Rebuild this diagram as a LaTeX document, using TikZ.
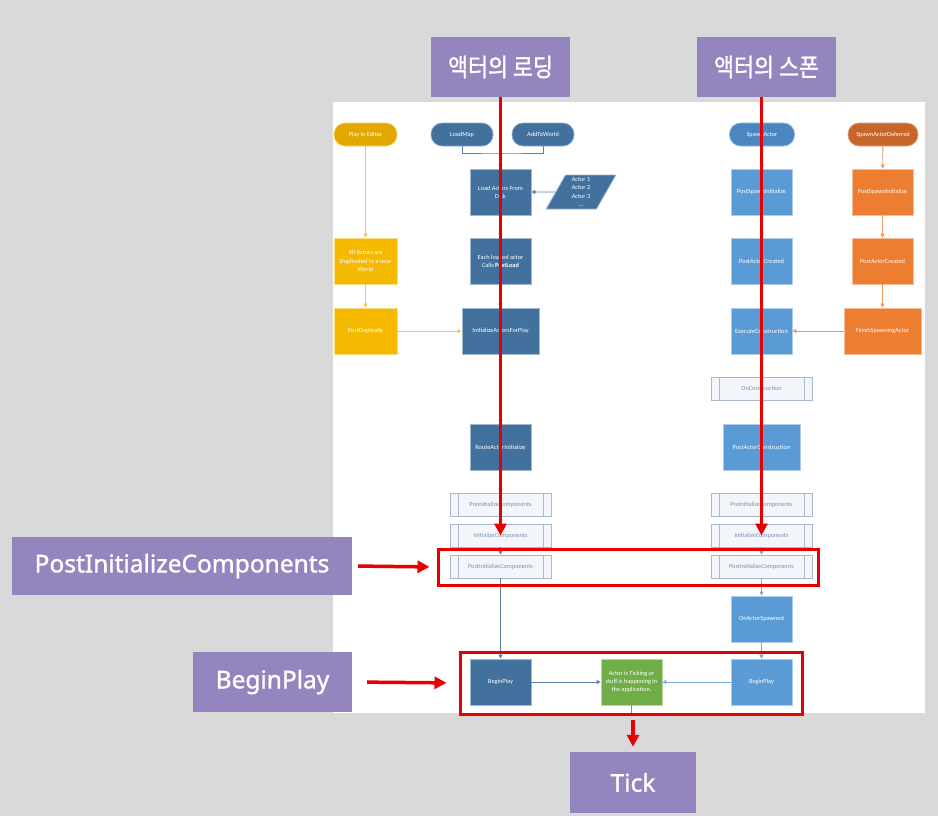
\documentclass[tikz,border=0pt]{standalone}
\usepackage{fontspec}
\setmainfont{Carlito}
\newfontfamily\lblfont[FakeBold=1.2]{Noto Sans}
\newfontfamily\krfont[FakeStretch=0.87,FakeBold=1.2]{Noto Sans CJK KR}
\usetikzlibrary{arrows.meta,shapes.geometric}
\definecolor{bg}{HTML}{D9D9D9}
\definecolor{purp}{HTML}{9585BE}
\definecolor{redc}{HTML}{E60000}
\definecolor{dblue}{HTML}{41719C}
\definecolor{mblue}{HTML}{4A86C1}
\definecolor{lblue}{HTML}{5B9BD5}
\definecolor{dorng}{HTML}{C8652B}
\definecolor{orng}{HTML}{ED7D31}
\definecolor{goldd}{HTML}{E3A800}
\definecolor{gold}{HTML}{F5BA00}
\definecolor{grn}{HTML}{70AD47}
\definecolor{procfill}{HTML}{F2F5FA}
\definecolor{procdraw}{HTML}{A9B8CB}
\definecolor{proctext}{HTML}{7C93B0}
\definecolor{dline}{HTML}{5E81A8}
\definecolor{gline}{HTML}{F5C94A}
\definecolor{oline}{HTML}{EE9A5C}
\definecolor{bline}{HTML}{79A9D9}
\tikzset{
  small/.style={font=\fontsize{6.3}{8.2}\selectfont, align=center, inner sep=1pt},
  fbox/.style={small, rectangle, text=white, minimum width=61pt, minimum height=46pt, line width=0.7pt},
  pill/.style={small, rectangle, rounded corners=11pt, text=white, minimum height=23pt, line width=0.7pt},
  proc/.style={small, rectangle, fill=procfill, draw=procdraw, text=proctext, minimum width=101pt, minimum height=23pt, line width=0.6pt,
    path picture={\draw[procdraw, line width=0.6pt]
      ([xshift=8pt]path picture bounding box.north west) -- ([xshift=8pt]path picture bounding box.south west)
      ([xshift=-8pt]path picture bounding box.north east) -- ([xshift=-8pt]path picture bounding box.south east);}},
  flow/.style={line width=0.8pt, -{Triangle[length=4pt,width=4pt]}},
  purplbl/.style={fill=purp, text=white, inner sep=0pt, font=\lblfont\fontsize{24.5}{29}\selectfont},
  redarrow/.style={draw=redc, line width=3.5pt, -{Triangle[length=12pt,width=12pt]}},
  redrect/.style={draw=redc, line width=3pt, rectangle, inner sep=0pt},
}
\begin{document}
\begin{tikzpicture}[x=1pt,y=-1pt]
\useasboundingbox (0,0) rectangle (938,816);
\fill[bg] (0,0) rectangle (938,816);
\fill[white] (333,102) rectangle (925,713);

% ---- loading column
\node[pill, fill=goldd, draw=gold!60!white, minimum width=63pt] (pie) at (365.5,134.5) {Play in Editor};
\node[pill, fill=dblue, draw=dblue!60!white, minimum width=62pt] (loadmap) at (462,134.5) {LoadMap};
\node[pill, fill=dblue, draw=dblue!60!white, minimum width=62pt] (addworld) at (543,134.5) {AddToWorld};
\node[fbox, fill=dblue, draw=dblue!50!white] (loadact) at (500.5,192) {Load Actors From\\Disk};
\node[small, trapezium, trapezium left angle=68, trapezium right angle=112, trapezium stretches=true,
      fill=dblue, draw=dblue!50!white, text=white, minimum width=70pt, minimum height=34pt, inner sep=0pt, line width=0.7pt]
      (actlist) at (581,192) {Actor 1\\Actor 2\\Actor 3\\...};
\node[fbox, fill=dblue, draw=dblue!50!white] (eachload) at (500.5,261) {Each loaded actor\\Calls \textbf{PostLoad}};
\node[fbox, fill=dblue, draw=dblue!50!white, minimum width=77pt] (initafp) at (500.5,331) {InitializeActorsForPlay};
\node[fbox, fill=gold, draw=gold!50!white, minimum width=63pt] (alldup) at (365.5,261) {All Actors are\\Duplicated to a new\\World};
\node[fbox, fill=gold, draw=gold!50!white, minimum width=63pt] (postdup) at (365.5,331) {PostDuplicate};
\node[fbox, fill=dblue, draw=dblue!50!white] (routeinit) at (500.5,447) {RouteActorInitialize};
\node[proc] (preinitL) at (500.5,504.5) {PreInitializeComponents};
\node[proc] (initL) at (500.5,535.5) {InitializeComponents};
\node[proc] (postinitL) at (500.5,566.5) {PostInitializeComponents};
\node[fbox, fill=dblue, draw=dblue!50!white] (beginL) at (500.5,682) {BeginPlay};
\node[fbox, fill=grn, draw=grn!50!white] (ticking) at (631.5,682) {Actor is Ticking or\\stuff is happening in\\the application.};

% ---- spawn column
\node[pill, fill=mblue, draw=mblue!60!white, minimum width=65pt] (spawnact) at (762,134.5) {SpawnActor};
\node[pill, fill=dorng, draw=dorng!60!white, minimum width=70pt] (spawndef) at (883,134.5) {SpawnActorDeferred};
\node[fbox, fill=lblue, draw=lblue!50!white] (psiB) at (761.5,192) {PostSpawnInitialize};
\node[fbox, fill=orng, draw=orng!50!white] (psiO) at (882.5,192) {PostSpawnInitialize};
\node[fbox, fill=lblue, draw=lblue!50!white] (pacB) at (761.5,261) {PostActorCreated};
\node[fbox, fill=orng, draw=orng!50!white] (pacO) at (882.5,261) {PostActorCreated};
\node[fbox, fill=lblue, draw=lblue!50!white] (execc) at (761.5,331) {ExecuteConstruction};
\node[fbox, fill=orng, draw=orng!50!white, minimum width=77pt] (finish) at (882.5,331) {FinishSpawningActor};
\node[proc] (oncons) at (761.5,388.5) {OnConstruction};
\node[fbox, fill=lblue, draw=lblue!50!white, minimum width=77pt] (postcons) at (761.5,447) {PostActorConstruction};
\node[proc] (preinitR) at (761.5,504.5) {PreInitializeComponents};
\node[proc] (initR) at (761.5,535.5) {InitializeComponents};
\node[proc] (postinitR) at (761.5,566.5) {PostInitializeComponents};
\node[fbox, fill=lblue, draw=lblue!50!white] (onspawned) at (761.5,619) {OnActorSpawned};
\node[fbox, fill=lblue, draw=lblue!50!white] (beginR) at (761.5,682) {BeginPlay};

% ---- flow connectors
\coordinate (merge) at (500.5,153);
\coordinate (tickout) at (631.5,713);
\draw[dline, line width=0.8pt] (loadmap.south) |- (merge) -| (addworld.south);
\draw[flow, dline] (merge) -- (loadact.north);
\draw[flow, dline] (actlist.west) -- (loadact.east);
\draw[flow, dline] (loadact) -- (eachload);
\draw[flow, dline] (eachload) -- (initafp);
\draw[flow, dline] (initafp) -- (routeinit);
\draw[flow, dline] (routeinit) -- (preinitL);
\draw[flow, dline] (preinitL) -- (initL);
\draw[flow, dline] (initL) -- (postinitL);
\draw[flow, dline] (postinitL) -- (beginL);
\draw[flow, dline] (beginL) -- (ticking);
\draw[flow, bline] (beginR) -- (ticking);
\draw[grn!60!gray, line width=0.8pt] (ticking.south) -- (tickout);
\draw[flow, gline] (pie) -- (alldup);
\draw[flow, gline] (alldup) -- (postdup);
\draw[flow, gline] (postdup) -- (initafp);
\draw[flow, oline] (spawndef) -- (psiO);
\draw[flow, oline] (psiO) -- (pacO);
\draw[flow, oline] (pacO) -- (finish);
\draw[flow, oline] (finish) -- (execc);
\draw[flow, bline] (spawnact) -- (psiB);
\draw[flow, bline] (psiB) -- (pacB);
\draw[flow, bline] (pacB) -- (execc);
\draw[flow, bline] (execc) -- (oncons);
\draw[flow, bline] (oncons) -- (postcons);
\draw[flow, bline] (postcons) -- (preinitR);
\draw[flow, bline] (preinitR) -- (initR);
\draw[flow, bline] (initR) -- (postinitR);
\draw[flow, bline] (postinitR) -- (onspawned);
\draw[flow, bline] (onspawned) -- (beginR);

% ---- annotation layer
\node[purplbl, minimum width=139pt, minimum height=60pt, font=\krfont\fontsize{25}{30}\selectfont] (loadlbl) at (500.5,67) {액터의 로딩};
\node[purplbl, minimum width=139pt, minimum height=60pt, font=\krfont\fontsize{25}{30}\selectfont] (spawnlbl) at (766.5,67) {액터의 스폰};
\node[purplbl, minimum width=340pt, minimum height=58pt] (postlbl) at (182,566) {PostInitializeComponents};
\node[purplbl, minimum width=159pt, minimum height=60pt] (beginlbl) at (272.5,682) {BeginPlay};
\node[purplbl, minimum width=126pt, minimum height=61pt] (ticklbl) at (633,782.5) {Tick};
\node[redrect, minimum width=380pt, minimum height=36pt] (postrect) at (628,567) {};
\node[redrect, minimum width=342pt, minimum height=62pt] (beginrect) at (631,683) {};

\draw[redarrow] (loadlbl.south) -- (initL.center);
\draw[redarrow] (spawnlbl.south -| initR.center) -- (initR.center);
\draw[redarrow, shorten <=6pt, shorten >=7pt] (postlbl.east) -- (postrect.west);
\draw[redarrow, shorten <=15pt, shorten >=12pt] (beginlbl.east) -- (beginrect.west);
\draw[redarrow, shorten <=4pt, shorten >=5pt] (beginrect.south -| ticklbl.north) -- (ticklbl.north);
\end{tikzpicture}
\end{document}
